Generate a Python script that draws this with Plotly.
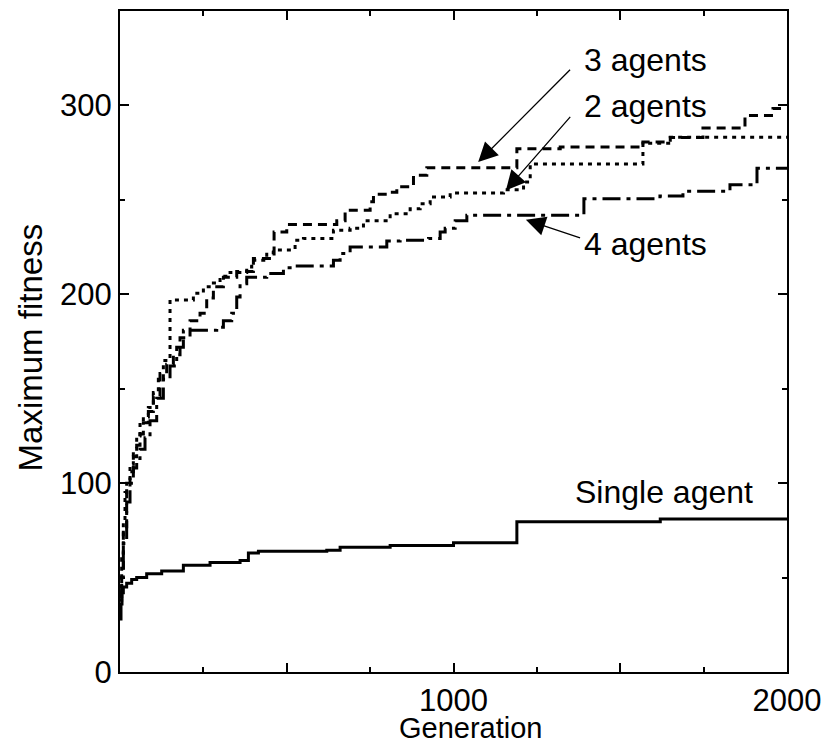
import plotly.graph_objects as go

# ---- data ----
single_x = [0, 3, 6, 10, 20, 35, 50, 80, 125, 190, 270, 360, 385, 415, 620, 660, 810, 1000, 1190, 1620, 2000]
single_y = [28, 36, 42, 45, 47, 49, 50, 52, 53.5, 56.5, 58, 59, 63, 64, 64.5, 66, 67, 68.5, 79.5, 81, 81]

two_x = [0, 5, 10, 15, 20, 30, 40, 50, 60, 70, 85, 100, 115, 130, 150, 220, 250, 280, 300, 330,
         380, 395, 440, 460, 525, 550, 640, 690, 730, 810, 870, 900, 930, 990, 1150, 1210, 1230,
         1568, 1650, 2000]
two_y = [45, 60, 80, 95, 101, 110, 117, 125, 131, 135, 140, 148, 155, 165, 197, 200.5, 204, 206,
         209.5, 211.6, 214.4, 218, 222, 223.5, 228.6, 229.6, 233.9, 235, 239, 242.7, 245.3, 248,
         251.5, 253.6, 255.4, 259.4, 269, 280, 283.2, 283.2]

three_x = [0, 5, 10, 20, 30, 40, 50, 60, 70, 85, 100, 120, 140, 160, 180, 210, 240, 260, 280, 310,
           350, 400, 462, 500, 650, 675, 750, 760, 800, 830, 880, 920, 1190, 1320, 1568, 1650, 1748,
           1874, 1958, 2000]
three_y = [40, 55, 75, 97, 106, 114, 120, 126, 132, 138, 146, 158, 163, 168, 177, 186, 190, 198,
           204, 209, 212, 219, 233, 237, 239, 244.5, 249, 253, 254, 257, 263, 267, 277, 278, 280.6,
           283, 288, 294.7, 298.4, 298.4]

four_x = [0, 5, 10, 20, 30, 40, 50, 60, 75, 90, 110, 130, 150, 170, 190, 290, 310, 335, 350, 360,
          380, 440, 490, 520, 640, 660, 690, 800, 840, 925, 960, 975, 1005, 1040, 1391, 1619, 1688,
          1829, 1910, 2000]
four_y = [38, 50, 68, 90, 100, 108, 113, 118, 124, 133, 145, 155, 162, 172, 181, 182.5, 186, 190,
          198.6, 205.6, 209, 211, 214, 215, 218, 221.6, 225, 228.2, 228.6, 229.6, 233, 235, 239,
          241.8, 250.6, 252, 254.5, 258, 266.8, 266.8]

x_tick_vals = [500, 1000, 1500, 2000]
x_tick_text = ["", "1000", "", "2000"]
y_tick_vals = [0, 100, 200, 300]
y_tick_text = ["0", "100", "200", "300"]

series_names = ["Single agent", "2 agents", "3 agents", "4 agents"]

FONT = "Liberation Sans, Arial, sans-serif"

fig = go.Figure()
styles = [
    (single_x, single_y, "solid"),
    (two_x, two_y, "4px,5px"),
    (three_x, three_y, "9px,6px"),
    (four_x, four_y, "18px,6px,4px,6px"),
]
for (xs, ys, dash), name in zip(styles, series_names):
    fig.add_trace(go.Scatter(x=xs, y=ys, mode="lines", name=name,
                             line=dict(color="black", width=3, dash=dash, shape="hv"),
                             showlegend=False))

# text labels
labels = [
    ("3 agents", 1385, 324.3),
    ("2 agents", 1385, 299.5),
    ("4 agents", 1385, 226.5),
    ("Single agent", 1358, 95.2),
]
for txt, lx, ly in labels:
    fig.add_annotation(x=lx, y=ly, xref="x", yref="y", text=txt, showarrow=False,
                       xanchor="left", yanchor="middle",
                       font=dict(family=FONT, size=32, color="black"))

# arrows (head, tail)
arrows = [
    (1074, 270, 1354, 319.7),
    (1157, 255, 1354, 294.7),
    (1217, 239.5, 1384, 229.6),
]
for hx, hy, tx, ty in arrows:
    fig.add_annotation(x=hx, y=hy, ax=tx, ay=ty, xref="x", yref="y", axref="x", ayref="y",
                       text="", showarrow=True, arrowhead=2, arrowsize=3, arrowwidth=1.3,
                       arrowcolor="black", standoff=0, startstandoff=0)

# axis titles
fig.add_annotation(x=-0.135, y=0.491, xref="paper", yref="paper", text="Maximum fitness",
                   textangle=-90, showarrow=False, xanchor="center", yanchor="middle",
                   font=dict(family=FONT, size=33, color="black"))
fig.add_annotation(x=0.526, y=-0.085, xref="paper", yref="paper", text="Generation",
                   showarrow=False, xanchor="center", yanchor="middle",
                   font=dict(family=FONT, size=29, color="black"))

axis_common = dict(showline=True, linecolor="black", linewidth=2, mirror="allticks",
                   ticks="inside", ticklen=9, tickwidth=2, tickcolor="black",
                   showgrid=False, zeroline=False, automargin=False,
                   tickfont=dict(family=FONT, size=31, color="black"))

fig.update_xaxes(range=[0, 2000], tickmode="array", tickvals=x_tick_vals, ticktext=x_tick_text,
                 minor=dict(dtick=250, tick0=0, ticks="inside", ticklen=5, tickwidth=2,
                            tickcolor="black", showgrid=False),
                 **axis_common)
fig.update_yaxes(range=[0, 350], tickmode="array", tickvals=y_tick_vals, ticktext=y_tick_text,
                 minor=dict(dtick=50, tick0=0, ticks="inside", ticklen=5, tickwidth=2,
                            tickcolor="black", showgrid=False),
                 **axis_common)

fig.update_layout(width=826, height=744, margin=dict(l=120, r=39, t=11, b=72),
                  paper_bgcolor="white", plot_bgcolor="white",
                  font=dict(family=FONT, color="black"))

fig.write_html("out.html", config={"displayModeBar": False},
               post_script="document.body.style.margin='0px';document.body.style.overflow='hidden';")
